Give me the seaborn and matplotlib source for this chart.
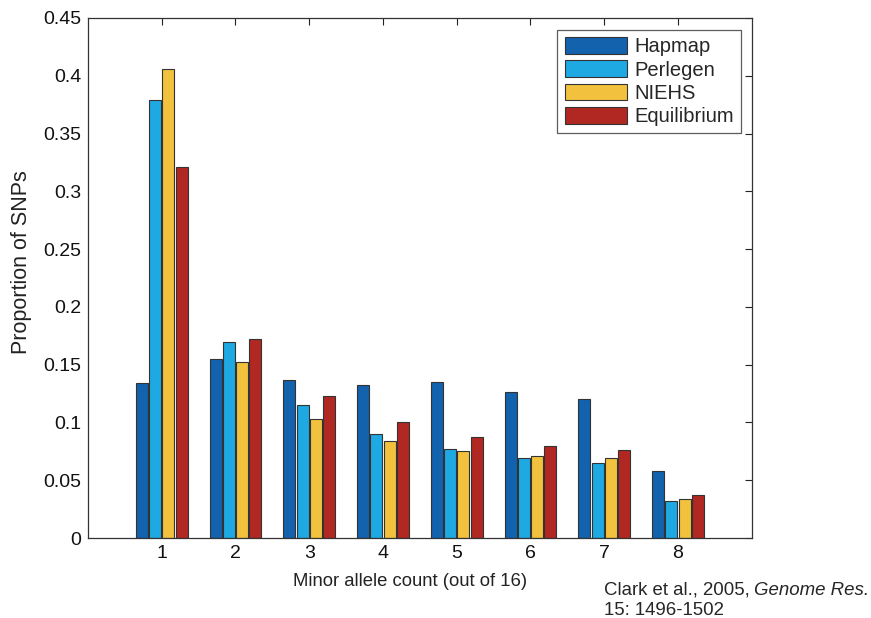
import matplotlib
matplotlib.use("Agg")
import matplotlib.pyplot as plt
import seaborn as sns
import pandas as pd

categories = ["1", "2", "3", "4", "5", "6", "7", "8"]
series_names = ["Hapmap", "Perlegen", "NIEHS", "Equilibrium"]
hapmap = [0.134, 0.155, 0.137, 0.132, 0.135, 0.126, 0.120, 0.058]
perlegen = [0.379, 0.170, 0.115, 0.090, 0.077, 0.069, 0.065, 0.032]
niehs = [0.406, 0.152, 0.103, 0.084, 0.075, 0.071, 0.069, 0.034]
equilibrium = [0.321, 0.172, 0.123, 0.100, 0.087, 0.080, 0.076, 0.037]
yticks = [0, 0.05, 0.1, 0.15, 0.2, 0.25, 0.3, 0.35, 0.4, 0.45]
ytick_labels = ["0", "0.05", "0.1", "0.15", "0.2", "0.25", "0.3", "0.35", "0.4", "0.45"]
colors = ["#1262ae", "#1ea9e3", "#f2c23e", "#b02821"]

rows = []
for name, vals in zip(series_names, [hapmap, perlegen, niehs, equilibrium]):
    for c, v in zip(categories, vals):
        rows.append({"count": c, "source": name, "value": v})
df = pd.DataFrame(rows)

sns.set_style("white")
plt.rcParams["font.family"] = ["Liberation Sans", "DejaVu Sans"]

fig = plt.figure(figsize=(8.71, 6.18), dpi=100)
ax = fig.add_axes([0.101, 0.1294, 0.762, 0.8416])

sns.barplot(data=df, x="count", y="value", hue="source", order=categories,
            hue_order=series_names, palette=colors, width=0.72, gap=0.1,
            edgecolor="#333333", linewidth=0.8, saturation=1, ax=ax)

ax.set_xlim(-1, 8)
ax.set_ylim(0, 0.45)
ax.set_yticks(yticks)
ax.set_yticklabels(ytick_labels)
ax.tick_params(axis="both", direction="in", length=5, width=0.8, labelsize=14,
               top=True, right=True, colors="#222222", pad=5)
ax.tick_params(axis="both", labelcolor="#111111")
for s in ax.spines.values():
    s.set_visible(True)
    s.set_color("#333333")
    s.set_linewidth(0.9)

ax.set_xlabel("Minor allele count (out of 16)", fontsize=13.3, color="#222222")
ax.set_ylabel("Proportion of SNPs", fontsize=15.5, color="#222222")
ax.xaxis.set_label_coords(0.485, -0.067)
ax.yaxis.set_label_coords(-0.084, 0.53)

leg = ax.legend(loc="upper right", bbox_to_anchor=(0.9834, 0.977), borderaxespad=0,
                fontsize=14.5, frameon=True, fancybox=False, edgecolor="#333333",
                handlelength=3.1, handleheight=0.9, handletextpad=0.35,
                labelspacing=0.2, borderpad=0.35, title=None)
leg.get_frame().set_linewidth(0.9)

t1 = fig.text(0.693, 0.038, "Clark et al., 2005, ", fontsize=13.4, ha="left", va="baseline")
ax.annotate("Genome Res.", xy=(1, 0), xycoords=t1, fontsize=13.4, style="italic",
            ha="left", va="bottom")
fig.text(0.693, 0.005, "15: 1496-1502", fontsize=13.4, ha="left", va="baseline")

fig.savefig("out.png", dpi=100)
